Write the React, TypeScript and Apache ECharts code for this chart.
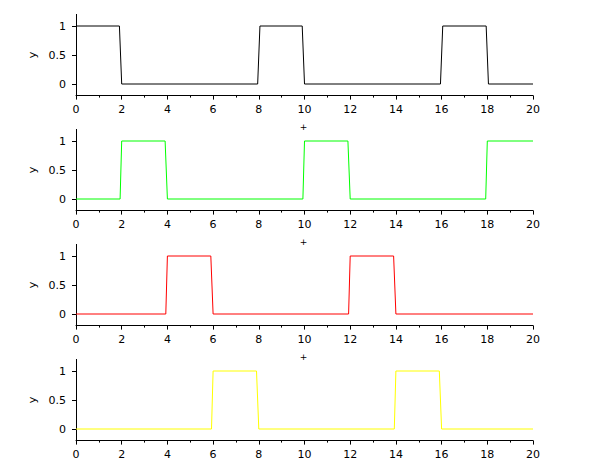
import React, { useEffect, useRef } from "react";
import * as echarts from "echarts";

// Breakpoints [x, y] of each pulse signal
const blackPoints: [number, number][] = [
  [0, 1], [1.9, 1], [2, 0], [7.95, 0], [8.05, 1], [9.9, 1], [10, 0],
  [15.95, 0], [16.05, 1], [17.95, 1], [18.05, 0], [20, 0],
];
const greenPoints: [number, number][] = [
  [0, 0], [1.93, 0], [2, 1], [3.9, 1], [4, 0], [9.93, 0], [10, 1],
  [11.9, 1], [12, 0], [17.93, 0], [18, 1], [20, 1],
];
const redPoints: [number, number][] = [
  [0, 0], [3.93, 0], [4, 1], [5.9, 1], [6, 0], [11.93, 0], [12, 1],
  [13.9, 1], [14, 0], [20, 0],
];
const yellowPoints: [number, number][] = [
  [0, 0], [5.93, 0], [6, 1], [7.9, 1], [8, 0], [13.93, 0], [14, 1],
  [15.9, 1], [16, 0], [20, 0],
];

const signals = [blackPoints, greenPoints, redPoints, yellowPoints];
const colors = ["#000000", "#00ff00", "#ff0000", "#ffff00"];
const yTickValues = [0, 0.5, 1];
const yName = "y";
const xMin = 0;
const xMax = 20;
const xInterval = 2;

export default function App() {
  const ref = useRef<HTMLDivElement>(null);
  useEffect(() => {
    if (!ref.current) return;
    const chart = echarts.init(ref.current, null, { renderer: "svg" });
    const font = "DejaVu Sans";
    const gridTop = [14.4, 129.4, 244.4, 359.4];
    const gridH = 81.2;
    const grids = gridTop.map((t) => ({
      left: 76,
      width: 457,
      top: t,
      height: gridH,
      containLabel: false,
    }));
    const xAxes = gridTop.map((_, i) => ({
      type: "value",
      gridIndex: i,
      min: xMin,
      max: xMax,
      interval: xInterval,
      axisLine: { show: true, onZero: false, lineStyle: { color: "#000", width: 1 } },
      axisTick: { show: true, length: 4, lineStyle: { color: "#000" } },
      minorTick: { show: true, splitNumber: 2, length: 2, lineStyle: { color: "#000" } },
      splitLine: { show: false },
      axisLabel: { color: "#000", fontFamily: font, fontSize: 11, margin: 8 },
    }));
    const yAxes = gridTop.map((_, i) => ({
      type: "value",
      gridIndex: i,
      min: -0.2,
      max: 1.2,
      name: yName,
      nameLocation: "middle",
      nameGap: 32,
      nameRotate: 90,
      nameTextStyle: { color: "#000", fontFamily: font, fontSize: 11 },
      axisLine: { show: true, lineStyle: { color: "#000", width: 1 } },
      axisTick: { show: true, length: 4, customValues: yTickValues, lineStyle: { color: "#000" } },
      splitLine: { show: false },
      axisLabel: {
        color: "#000",
        fontFamily: font,
        fontSize: 11,
        margin: 10,
        customValues: yTickValues,
      },
    }));
    const series = signals.map((pts, i) => ({
      type: "line",
      xAxisIndex: i,
      yAxisIndex: i,
      data: pts,
      showSymbol: false,
      symbol: "none",
      lineStyle: { color: colors[i], width: 1 },
      itemStyle: { color: colors[i] },
    }));
    const plusMarks = [1, 2, 3].map((i) => ({
      type: "text",
      x: 303.5,
      y: gridTop[i] - 2,
      style: {
        text: "+",
        fill: "#000",
        fontSize: 9,
        fontFamily: font,
        align: "center",
        verticalAlign: "middle",
      },
    }));
    chart.setOption({
      animation: false,
      backgroundColor: "#fff",
      grid: grids,
      xAxis: xAxes,
      yAxis: yAxes,
      series,
      graphic: plusMarks,
    });
    return () => chart.dispose();
  }, []);
  return (
    <div
      ref={ref}
      style={{ position: "fixed", left: 0, top: 0, width: 610, height: 460 }}
    />
  );
}
